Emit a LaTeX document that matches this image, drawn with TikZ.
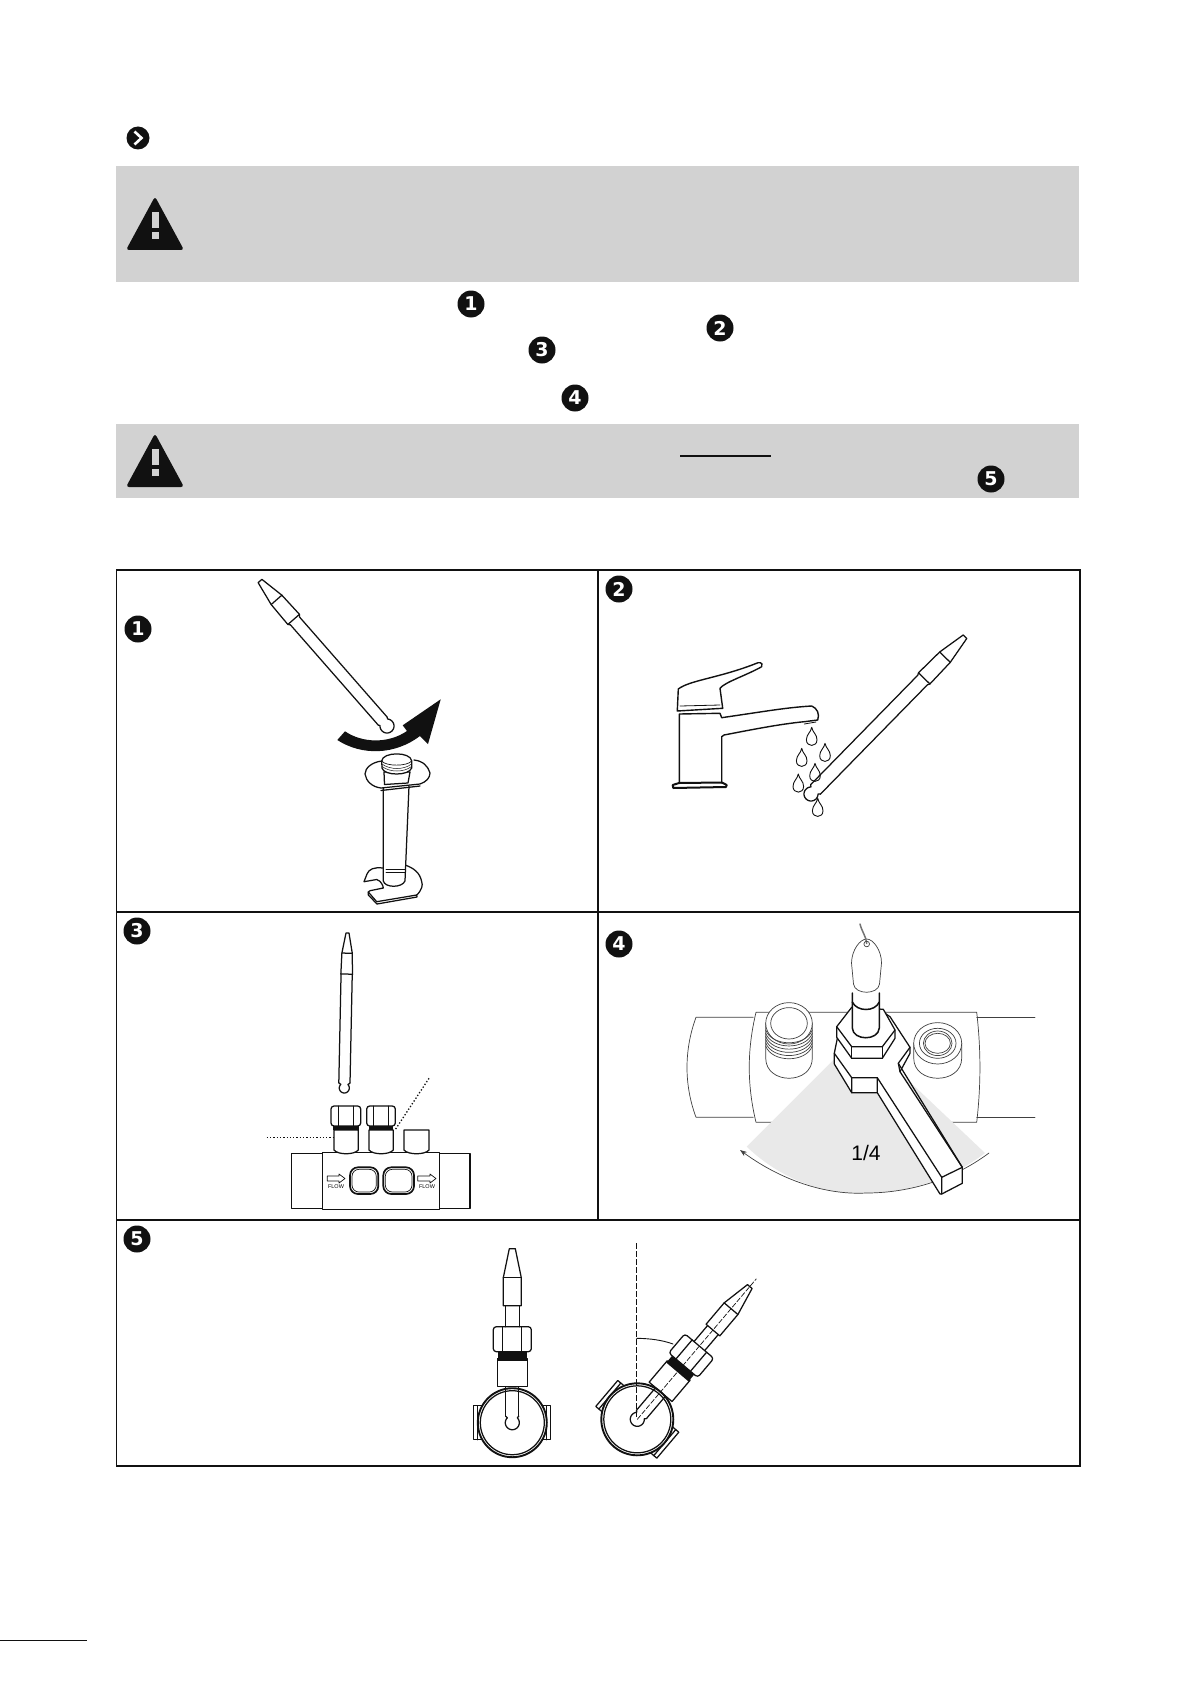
\documentclass[tikz,border=0pt]{standalone}
\usepackage{fontspec}
\setmainfont{Liberation Sans}
\newfontfamily\digitfont{DejaVu Sans}
\usetikzlibrary{arrows.meta}
\definecolor{boxgrey}{HTML}{D2D2D2}
\definecolor{sectorgrey}{HTML}{E9E9E9}
\definecolor{inkblack}{HTML}{111111}
\tikzset{
  ln/.style={line width=1.25pt,draw=inkblack,line join=round,line cap=round},
  thin ln/.style={line width=.7pt,draw=inkblack,line join=round,line cap=round},
  grey ln/.style={line width=.7pt,draw=black!75,line join=round,line cap=round},
  thick ln/.style={line width=1.9pt,draw=inkblack,line join=round,line cap=round},
  framebox/.style={line width=1.8pt,draw=inkblack},
  greybox/.style={fill=boxgrey,draw=none},
  marker/.style={circle,fill=inkblack,inner sep=0pt,minimum size=27pt,text=white,font=\digitfont\fontsize{19}{19}\selectfont\bfseries},
  leader/.style={line width=1.3pt,draw=inkblack,dash pattern=on 1.3pt off 2pt},
}
% ball of radius #1 with shaft half width #2: an open circle and its neck
\newcommand\myball[2]{%
  \pgfmathsetmacro\nS{.707*#1}\pgfmathsetmacro\nT{.707*#1}\pgfmathsetmacro\nE{\nS+1.5}%
  \draw[ln] (\nE,#2) -- (\nS,\nT) plot[domain=45:315,samples=40] ({#1*cos(\x)},{#1*sin(\x)}) -- (\nE,-#2);}
% probe: ball (#1,#2), tip (#3,#4), shaft half width #5, head half width #6, tip half width #7, ball radius #8
\newcommand\myprobe[8]{%
  \pgfmathsetmacro\pL{veclen(#3-#1,#4-#2)}%
  \pgfmathsetmacro\pA{atan2(#2-#4,#3-#1)}%
  \begin{scope}[shift={(#1,#2)},rotate=\pA]
    \pgfmathsetmacro\sa{.725*\pL}\pgfmathsetmacro\sb{.735*\pL}\pgfmathsetmacro\sc{.87*\pL}\pgfmathsetmacro\sd{.707*#8+1.5}%
    \draw[ln,fill=white] (\sd,#5) -- (\sa,#5) -- (\sb,#6) -- (\sc,#6-.6) -- (\pL,#7) -- (\pL,-#7) -- (\sc,-#6+.6) -- (\sb,-#6) -- (\sa,-#5) -- (\sd,-#5);
    \draw[ln] (\sb,#6) -- (\sb,-#6) (\sc,#6-.6) -- (\sc,-#6+.6);
    \myball{#8}{#5}
  \end{scope}}
% water drop with tip at (#1,#2)
\newcommand\mydrop[2]{%
  \draw[ln,line width=.9pt] (#1,#2) .. controls (#1+.8,#2+5) and (#1+5.3,#2+7) .. (#1+5.3,#2+12.5)
    .. controls (#1+5.3,#2+20) and (#1-5.3,#2+20) .. (#1-5.3,#2+12.5)
    .. controls (#1-5.3,#2+7) and (#1-.8,#2+5) .. (#1,#2);}
% warning triangle, top at (155,#1)
\newcommand\mywarn[1]{%
  \fill[inkblack,rounded corners=3pt] (155,#1-1.5) -- (184,#1+52) -- (126,#1+52) -- cycle;
  \fill[boxgrey] (151.5,#1+14) rectangle (158.5,#1+30);
  \fill[boxgrey] (151.5,#1+34) rectangle (158.5,#1+41);}
% tee seen end on: centre (#1,#2), tip (#3,#4), pipe radius #5
\newcommand\myvalve[6]{%
  \pgfmathsetmacro\pA{atan2(#2-#4,#3-#1)}%
  \begin{scope}[shift={(#1,#2)},rotate=\pA]
    \draw[ln,fill=white] (36,15) -- (64,15) -- (64,-15) -- (36,-15) -- cycle;
    \fill[inkblack] (62,14.5) rectangle (71,-14.5);
    \draw[ln,fill=white,rounded corners=3pt] (71,19) rectangle (96,-19);
    \draw[ln] (71,9.5) -- (96,9.5) (71,-9.5) -- (96,-9.5);
    \draw[ln] (96,7) -- (117,7) (96,-7) -- (117,-7);
    \draw[ln,fill=white] (117,9) -- (145,9) -- (174,3) -- (174,-3) -- (145,-9) -- (117,-9) -- cycle;
    \draw[ln] (145,9) -- (145,-9);
    \draw[ln,fill=white] (-17,#5-8) rectangle (17,#5+4);
    \draw[ln,fill=white] (-17,-#5+8) rectangle (17,-#5-4);
    \draw[ln] (-17,#5) -- (17,#5) (-17,-#5) -- (17,-#5);
    \draw[thick ln,fill=white] (0,0) circle[radius=#5];
    \draw[ln] (0,0) circle[radius=#5-2.5];
    \draw[ln] (36,6.5) -- (6.5,6.5) (36,-6.5) -- (6.5,-6.5);
    \myball{7}{6.5}
    \ifnum#6=1
      \draw[thin ln,dash pattern=on 5pt off 2pt] (0,0) -- (184,0);
    \fi
  \end{scope}}
\begin{document}
\begin{tikzpicture}[x=1pt,y=-1pt]
\useasboundingbox (0,0) rectangle (1195,1688);
\fill[white] (0,0) rectangle (1195,1688);
% header bullet
\node[marker,minimum size=23pt] (bullet) at (138,138) {};
\draw[white,line width=2.6pt] (134.5,131.5) -- (141.5,138) -- (134.5,144.5);
% warning boxes
\fill[greybox] (116,166) rectangle (1079,282);
\fill[greybox] (116,424) rectangle (1079,498);
\mywarn{198}
\mywarn{435}
\draw[line width=2pt,inkblack] (680,455.5) -- (771,455.5);
% numbered markers in text
\node[marker] (t1) at (471,304) {1};
\node[marker] (t2) at (720,328) {2};
\node[marker] (t3) at (542,350) {3};
\node[marker] (t4) at (575,398) {4};
\node[marker] (t5) at (991,479) {5};
% table
\draw[framebox] (116.5,570) rectangle (1080,1466);
\draw[framebox] (116.5,912) -- (1080,912);
\draw[framebox] (116.5,1220) -- (1080,1220);
\draw[framebox] (598,570) -- (598,1220);
\node[marker] (c1) at (138,629) {1};
\node[marker] (c2) at (619,589) {2};
\node[marker] (c3) at (137,931) {3};
\node[marker] (c4) at (619,944) {4};
\node[marker] (c5) at (137,1239) {5};
% bottom left rule
\draw[line width=1.2pt,inkblack] (0,1640.5) -- (87,1640.5);
%%%%% cell 1
\myprobe{387}{726}{260}{581}{6}{7.7}{2.5}{7}
\fill[inkblack] (337.3,740) .. controls (362,756) and (395,755) .. (420,736) -- (428,744) -- (440.7,699.3) -- (402.7,725.3) -- (407,731) .. controls (388,744) and (362,743) .. (345,731.3) -- cycle;
% wrench foot
\draw[ln,fill=white] (383,868) .. controls (374,867) and (369,869) .. (367,874) -- (364,881.7) -- (376.7,879.5) .. controls (381,881) and (383,885) .. (383.3,888) -- (370,890.7) -- (368.3,892) -- (376.7,901.7) -- (416.7,895) .. controls (422,890) and (423,885) .. (421.7,881.7) .. controls (420,873) and (414,868) .. (405,865);
\draw[ln] (368.3,892) -- (368.3,895) -- (377,904) -- (417,897) -- (416.7,895);
% shaft
\draw[ln,fill=white] (383.3,786) -- (383.3,881) .. controls (385,888) and (402,888) .. (405,881) -- (409,786);
\draw[thin ln] (386,869) -- (405,869) (386,872.5) -- (405,872.5);
% flange
\draw[ln,fill=white] (382,761) .. controls (372,762) and (365,768) .. (365,774) .. controls (366,781) and (372,787) .. (381,788) -- (420,784) .. controls (426,782) and (430,778) .. (430,773) .. controls (428,766) and (423,761) .. (414,760);
\draw[ln] (381,790.5) -- (420,786);
% cap and neck
\draw[ln,fill=white] (384,772) -- (384.5,784.5) -- (408,783) -- (410,772) -- cycle;
\draw[ln,fill=white] (381.7,761) -- (382,768) .. controls (384,776) and (409,776) .. (411.7,768) -- (411.7,761) .. controls (411,751.5) and (382.5,751.5) .. (381.7,761) -- cycle;
\draw[thin ln,line width=.5pt] (382,764) .. controls (390,770) and (404,770) .. (411.5,764) (382,766.5) .. controls (390,772.5) and (404,772.5) .. (411.5,766.5);
\draw[thin ln] (381.7,761) .. controls (386,766.5) and (407,766.5) .. (411.7,761);
%%%%% cell 2
\myprobe{811}{794}{965}{636.7}{6.8}{8}{2.5}{7}
\begin{scope}[line width=1.4pt,draw=inkblack,line join=round,line cap=round]
  \draw (677.3,710.7) -- (678.3,689) .. controls (690,680) and (720,678) .. (758,662.7) .. controls (762,662) and (763,665) .. (761.7,666.7) .. controls (745,676) and (725,682) .. (720,688.3) -- (722.7,708.3) -- (677.3,711) -- cycle;
  \draw[line width=.8pt] (680,706) -- (720,705);
  \draw (679.3,783) -- (679.3,714) -- (720,713.3) -- (721.7,717.7) -- (760,712) .. controls (780,709) and (795,707) .. (811.7,706) .. controls (817,708) and (820,714) .. (817.7,720) -- (804.3,721.7) .. controls (780,724) and (750,730) .. (724,735) -- (721.7,736.7) -- (721.7,783);
  \draw[line width=.8pt] (804.3,724) -- (816,722);
  \draw[line width=2pt] (672.7,785) -- (679,783) -- (722,782.5) -- (726.7,785) -- (726,787) -- (673.3,788) -- cycle;
\end{scope}
\mydrop{811.7}{727.3}\mydrop{801.7}{748.3}\mydrop{825}{743.3}\mydrop{815}{763.3}\mydrop{798.3}{774}\mydrop{817.7}{798.3}
%%%%% cell 3
\myprobe{344.3}{1088}{347.5}{933}{5.6}{5.8}{1.5}{5}
% manifold
\draw[ln] (291.7,1153.3) rectangle (322.7,1208.3);
\draw[ln,fill=white] (322.7,1152.7) rectangle (439.3,1209.3);
\draw[ln] (439.3,1153.3) rectangle (470,1208.3);
\draw[ln,line width=1.7pt,rounded corners=8pt] (350,1167.3) rectangle (378.3,1194);
\draw[thin ln,rounded corners=7pt] (352,1169.3) rectangle (376.3,1192);
\draw[ln,line width=1.7pt,rounded corners=8pt] (383.3,1167.3) rectangle (414,1194);
\draw[thin ln,rounded corners=7pt] (385.3,1169.3) rectangle (412,1192);
\draw[thin ln] (327.3,1176) -- (339,1176) -- (339,1174) -- (345,1178.5) -- (339,1183) -- (339,1181) -- (327.3,1181) -- cycle;
\draw[thin ln] (417.7,1176) -- (430,1176) -- (430,1174) -- (436,1178.5) -- (430,1183) -- (430,1181) -- (417.7,1181) -- cycle;
\node[inner sep=0pt,font=\fontsize{5.5}{5.5}\selectfont] (flowl) at (336,1186.5) {FLOW};
\node[inner sep=0pt,font=\fontsize{5.5}{5.5}\selectfont] (flowr) at (427,1186.5) {FLOW};
\foreach \xa/\xb in {334/358.3,369/393.3,404/429}{
  \draw[ln,fill=white] (\xa,1130) -- (\xa,1150) .. controls (\xa+4,1155) and (\xb-4,1155) .. (\xb,1150) -- (\xb,1130) -- cycle;
}
\foreach \xa/\xb in {331/360.7,366.7/395.3}{
  \draw[ln,fill=white,rounded corners=3pt] (\xa,1106) rectangle (\xb,1126);
  \draw[thin ln] (\xa+7,1106) -- (\xa+7,1126) (\xb-7,1106) -- (\xb-7,1126);
  \fill[inkblack] (\xa+2,1126) rectangle (\xb-2,1130);
}
\coordinate (la) at (266.7,1137.7); \coordinate (lb) at (333.3,1137.7);
\coordinate (lc) at (429,1078.3); \coordinate (ld) at (395,1130);
\draw[leader] (la) -- (lb);
\draw[leader] (lc) -- (ld);
%%%%% cell 4
\begin{scope}[grey ln]
  \draw (753.3,1017.3) -- (696,1017.3) .. controls (684,1050) and (684,1085) .. (696,1117.3) -- (753.3,1117.3);
  \draw (976.7,1017.3) -- (1035,1017.3) (976.7,1117.3) -- (1035,1117.3);
  \draw (976.7,1012.3) -- (756,1012.3) .. controls (747,1050) and (747,1085) .. (756,1122.3) -- (976.7,1122.3) .. controls (981,1085) and (981,1050) .. (976.7,1012.3);
\end{scope}
\fill[sectorgrey] (859.3,1034) -- (746.7,1146.7) .. controls (785,1183) and (830,1195) .. (866,1193) .. controls (905,1193) and (950,1180) .. (985,1153) -- cycle;
\draw[grey ln,-{Stealth[length=7pt,width=5pt]}] (989,1153) .. controls (950,1182) and (905,1193) .. (866,1193) .. controls (830,1195) and (785,1183) .. (740,1150);
% left fitting
\draw[grey ln,fill=white] (765.7,1023.3) -- (765.7,1058) .. controls (765.7,1085) and (812.3,1085) .. (812.3,1058) -- (812.3,1023.3);
\draw[grey ln,fill=white] (789,1023.3) ellipse[x radius=23.3,y radius=20.7];
\draw[grey ln] (789,1023.3) ellipse[x radius=18.3,y radius=15.7];
\foreach \dy in {0,3.2,...,16}{
  \draw[grey ln] (765.7,1030+\dy) .. controls (772,1047+\dy) and (806,1047+\dy) .. (812.3,1030+\dy);
}
% right fitting
\draw[grey ln,fill=white] (913.7,1043.3) -- (913.7,1058) .. controls (913.7,1085) and (961.7,1085) .. (961.7,1058) -- (961.7,1043.3);
\draw[grey ln,fill=white] (937.7,1043.3) ellipse[x radius=24,y radius=20.7];
\draw[grey ln] (937.7,1043.3) ellipse[x radius=18.3,y radius=15];
\draw[grey ln] (937.7,1043.3) ellipse[x radius=14.3,y radius=12.3];
\draw[grey ln] (937.7,1043.3) ellipse[x radius=12.7,y radius=10];
% sensor head and cable
\draw[grey ln,fill=white] (866.7,939) .. controls (860,939) and (851.7,950) .. (851.5,963) -- (853.5,984) .. controls (855,995) and (878,995) .. (879.5,984) -- (881.5,963) .. controls (881.5,950) and (873,939) .. (866.7,939) -- cycle;
\draw[grey ln,line width=1.5pt,draw=black!55] (860,924) .. controls (862,932) and (866,936) .. (866.7,943.5);
\draw[grey ln] (866.7,944) circle[radius=2.8];
% wrench
\draw[ln,fill=white] (834.3,1053.3) -- (834.3,1064) -- (851.7,1092.7) -- (877.3,1092.7) -- (940,1194) -- (941.7,1194) -- (962.3,1183.3) -- (962.3,1167.3) -- (900,1071.7) -- (910,1053.3) -- (910,1047.3) -- (890,1016.7) -- (865,1000) -- (840,1025) -- cycle;
\draw[ln] (834.3,1053.3) -- (851.7,1077.7) -- (877.3,1077.7) -- (941.7,1177.3) -- (962.3,1167.3) -- (898.3,1063.3) -- (910,1047.3);
\draw[ln] (851.7,1077.7) -- (851.7,1092.7) (877.3,1077.7) -- (877.3,1092.7) (941.7,1177.3) -- (941.7,1194) (898.3,1063.3) -- (900,1071.7);
% nut
\draw[ln,fill=white] (836.7,1026.7) -- (851.7,1007.3) -- (883.3,1009.3) -- (895,1030) -- (895,1038.3) -- (882.3,1058.3) -- (851.7,1058.3) -- (836.7,1037.3) -- cycle;
\draw[ln] (836.7,1026.7) -- (851.7,1046.7) -- (882.3,1046.7) -- (895,1030);
\draw[ln] (851.7,1046.7) -- (851.7,1058.3) (882.3,1046.7) -- (882.3,1058.3);
% stem
\draw[ln,line width=1.5pt,fill=white] (852.3,993) -- (852.3,1028) .. controls (853,1041) and (878.5,1041) .. (879.3,1028) -- (879.3,993);
\draw[ln,line width=1.5pt] (852.3,1002) .. controls (857,1012) and (875,1012) .. (879.3,1002);
\node[inner sep=0pt,font=\fontsize{21}{21}\selectfont] (quarter) at (866,1153) {1/4};
%%%%% cell 5
\myvalve{512.3}{1422.7}{512.3}{1248.3}{34.5}{0}
\myvalve{637.3}{1419.3}{748.3}{1288.3}{36}{1}
\coordinate (va) at (636.7,1243.3); \coordinate (vb) at (636.7,1418);
\draw[line width=1.3pt,draw=inkblack,dash pattern=on 6pt off 2pt] (va) -- (vb);
\draw[thin ln,line width=.9pt] (636.7,1338.3) .. controls (650,1338.5) and (662,1340) .. (673,1344);
\end{tikzpicture}
\end{document}
